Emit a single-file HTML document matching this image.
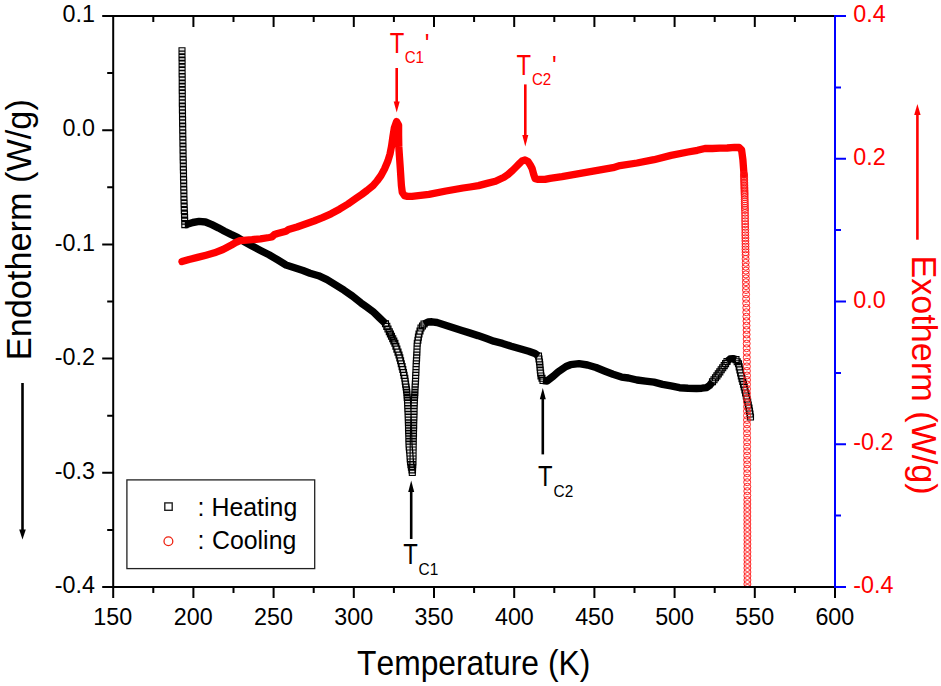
<!DOCTYPE html><html><head><meta charset="utf-8"><style>html,body{margin:0;padding:0;background:#fff;width:941px;height:686px;overflow:hidden}svg{display:block}</style></head><body>
<svg width="941" height="686" viewBox="0 0 941 686">
<rect width="941" height="686" fill="#fff"/>
<defs><clipPath id="pc"><rect x="113.2" y="15.0" width="721.8" height="572.0"/></clipPath></defs>
<g clip-path="url(#pc)">
<path d="M179.0 47.8h6.0v6.0h-6.0zM179.0 51.1h6.0v6.0h-6.0zM179.0 54.4h6.0v6.0h-6.0zM179.1 57.6h6.0v6.0h-6.0zM179.1 60.9h6.0v6.0h-6.0zM179.1 64.2h6.0v6.0h-6.0zM179.1 67.5h6.0v6.0h-6.0zM179.1 70.8h6.0v6.0h-6.0zM179.2 74.0h6.0v6.0h-6.0zM179.2 77.3h6.0v6.0h-6.0zM179.2 80.6h6.0v6.0h-6.0zM179.2 83.9h6.0v6.0h-6.0zM179.2 87.2h6.0v6.0h-6.0zM179.3 90.4h6.0v6.0h-6.0zM179.3 93.7h6.0v6.0h-6.0zM179.3 97.0h6.0v6.0h-6.0zM179.3 100.3h6.0v6.0h-6.0zM179.4 103.7h6.0v6.0h-6.0zM179.4 107.0h6.0v6.0h-6.0zM179.5 110.3h6.0v6.0h-6.0zM179.5 113.7h6.0v6.0h-6.0zM179.6 117.0h6.0v6.0h-6.0zM179.6 120.3h6.0v6.0h-6.0zM179.7 123.7h6.0v6.0h-6.0zM179.7 127.0h6.0v6.0h-6.0zM179.8 130.3h6.0v6.0h-6.0zM179.8 133.7h6.0v6.0h-6.0zM179.9 137.0h6.0v6.0h-6.0zM179.9 140.3h6.0v6.0h-6.0zM180.0 143.7h6.0v6.0h-6.0zM180.0 147.0h6.0v6.0h-6.0zM180.1 150.3h6.0v6.0h-6.0zM180.1 153.7h6.0v6.0h-6.0zM180.2 157.0h6.0v6.0h-6.0zM180.3 160.3h6.0v6.0h-6.0zM180.3 163.7h6.0v6.0h-6.0zM180.4 167.0h6.0v6.0h-6.0zM180.5 170.3h6.0v6.0h-6.0zM180.5 173.7h6.0v6.0h-6.0zM180.6 177.0h6.0v6.0h-6.0zM180.7 180.3h6.0v6.0h-6.0zM180.7 183.7h6.0v6.0h-6.0zM180.8 187.0h6.0v6.0h-6.0zM180.9 190.3h6.0v6.0h-6.0zM180.9 193.7h6.0v6.0h-6.0zM181.0 197.0h6.0v6.0h-6.0zM181.1 200.5h6.0v6.0h-6.0zM181.2 204.0h6.0v6.0h-6.0zM181.3 207.5h6.0v6.0h-6.0zM181.5 211.1h6.0v6.0h-6.0zM181.6 214.6h6.0v6.0h-6.0zM181.7 218.1h6.0v6.0h-6.0zM181.8 221.6h6.0v6.0h-6.0zM382.5 320.7h6.0v6.0h-6.0zM383.8 323.4h6.0v6.0h-6.0zM385.0 326.0h6.0v6.0h-6.0zM386.3 328.7h6.0v6.0h-6.0zM387.4 331.0h6.0v6.0h-6.0zM388.5 333.3h6.0v6.0h-6.0zM389.7 335.7h6.0v6.0h-6.0zM390.8 338.0h6.0v6.0h-6.0zM391.9 340.3h6.0v6.0h-6.0zM392.9 343.2h6.0v6.0h-6.0zM393.9 346.1h6.0v6.0h-6.0zM395.0 349.1h6.0v6.0h-6.0zM396.0 352.0h6.0v6.0h-6.0zM396.8 354.9h6.0v6.0h-6.0zM397.6 357.8h6.0v6.0h-6.0zM398.3 360.7h6.0v6.0h-6.0zM399.1 363.6h6.0v6.0h-6.0zM399.8 366.5h6.0v6.0h-6.0zM400.5 369.5h6.0v6.0h-6.0zM401.1 372.4h6.0v6.0h-6.0zM401.8 375.3h6.0v6.0h-6.0zM402.2 378.2h6.0v6.0h-6.0zM402.6 381.1h6.0v6.0h-6.0zM403.1 384.0h6.0v6.0h-6.0zM403.5 386.9h6.0v6.0h-6.0zM403.8 389.4h6.0v6.0h-6.0zM404.0 391.9h6.0v6.0h-6.0zM404.2 394.5h6.0v6.0h-6.0zM404.5 397.0h6.0v6.0h-6.0zM404.6 399.9h6.0v6.0h-6.0zM404.7 402.7h6.0v6.0h-6.0zM404.8 405.6h6.0v6.0h-6.0zM405.0 408.4h6.0v6.0h-6.0zM405.1 411.3h6.0v6.0h-6.0zM405.2 414.1h6.0v6.0h-6.0zM405.3 417.0h6.0v6.0h-6.0zM405.4 419.7h6.0v6.0h-6.0zM405.5 422.3h6.0v6.0h-6.0zM405.5 425.0h6.0v6.0h-6.0zM405.6 427.7h6.0v6.0h-6.0zM405.7 430.3h6.0v6.0h-6.0zM405.8 433.0h6.0v6.0h-6.0zM405.8 435.7h6.0v6.0h-6.0zM405.9 438.3h6.0v6.0h-6.0zM406.0 441.0h6.0v6.0h-6.0zM406.2 444.0h6.0v6.0h-6.0zM406.5 447.0h6.0v6.0h-6.0zM406.8 450.0h6.0v6.0h-6.0zM407.0 453.0h6.0v6.0h-6.0zM407.2 456.0h6.0v6.0h-6.0zM407.5 459.0h6.0v6.0h-6.0zM407.9 461.6h6.0v6.0h-6.0zM408.4 464.2h6.0v6.0h-6.0zM408.9 466.9h6.0v6.0h-6.0zM409.3 469.5h6.0v6.0h-6.0zM409.5 466.9h6.0v6.0h-6.0zM409.6 464.2h6.0v6.0h-6.0zM409.8 461.6h6.0v6.0h-6.0zM410.0 459.0h6.0v6.0h-6.0zM410.0 456.0h6.0v6.0h-6.0zM410.1 453.0h6.0v6.0h-6.0zM410.1 450.0h6.0v6.0h-6.0zM410.1 447.0h6.0v6.0h-6.0zM410.2 444.0h6.0v6.0h-6.0zM410.2 441.0h6.0v6.0h-6.0zM410.3 438.3h6.0v6.0h-6.0zM410.3 435.7h6.0v6.0h-6.0zM410.4 433.0h6.0v6.0h-6.0zM410.5 430.3h6.0v6.0h-6.0zM410.5 427.7h6.0v6.0h-6.0zM410.6 425.0h6.0v6.0h-6.0zM410.7 422.3h6.0v6.0h-6.0zM410.7 419.7h6.0v6.0h-6.0zM410.8 417.0h6.0v6.0h-6.0zM410.9 414.1h6.0v6.0h-6.0zM411.0 411.3h6.0v6.0h-6.0zM411.1 408.4h6.0v6.0h-6.0zM411.1 405.6h6.0v6.0h-6.0zM411.2 402.7h6.0v6.0h-6.0zM411.3 399.9h6.0v6.0h-6.0zM411.4 397.0h6.0v6.0h-6.0zM411.5 394.5h6.0v6.0h-6.0zM411.7 391.9h6.0v6.0h-6.0zM411.9 389.4h6.0v6.0h-6.0zM412.0 386.9h6.0v6.0h-6.0zM412.1 384.0h6.0v6.0h-6.0zM412.3 381.1h6.0v6.0h-6.0zM412.5 378.2h6.0v6.0h-6.0zM412.6 375.3h6.0v6.0h-6.0zM412.7 372.4h6.0v6.0h-6.0zM412.9 369.5h6.0v6.0h-6.0zM413.0 366.5h6.0v6.0h-6.0zM413.1 363.6h6.0v6.0h-6.0zM413.2 360.7h6.0v6.0h-6.0zM413.4 357.8h6.0v6.0h-6.0zM413.6 354.9h6.0v6.0h-6.0zM413.7 352.0h6.0v6.0h-6.0zM413.9 349.1h6.0v6.0h-6.0zM414.0 346.1h6.0v6.0h-6.0zM414.1 343.2h6.0v6.0h-6.0zM414.3 340.3h6.0v6.0h-6.0zM414.9 337.2h6.0v6.0h-6.0zM415.4 334.1h6.0v6.0h-6.0zM416.0 331.0h6.0v6.0h-6.0zM417.0 328.0h6.0v6.0h-6.0zM418.0 325.0h6.0v6.0h-6.0zM419.5 323.0h6.0v6.0h-6.0zM421.0 321.0h6.0v6.0h-6.0zM535.5 353.0h6.0v6.0h-6.0zM536.0 356.0h6.0v6.0h-6.0zM536.5 359.0h6.0v6.0h-6.0zM536.8 361.7h6.0v6.0h-6.0zM537.0 364.3h6.0v6.0h-6.0zM537.3 367.0h6.0v6.0h-6.0zM537.6 370.0h6.0v6.0h-6.0zM538.0 373.0h6.0v6.0h-6.0zM539.0 375.2h6.0v6.0h-6.0zM540.0 377.5h6.0v6.0h-6.0zM709.5 378.8h6.0v6.0h-6.0zM711.0 376.8h6.0v6.0h-6.0zM712.5 374.8h6.0v6.0h-6.0zM713.9 372.9h6.0v6.0h-6.0zM715.3 370.9h6.0v6.0h-6.0zM716.8 368.9h6.0v6.0h-6.0zM718.2 366.8h6.0v6.0h-6.0zM719.7 364.7h6.0v6.0h-6.0zM721.2 362.6h6.0v6.0h-6.0zM722.6 360.6h6.0v6.0h-6.0zM724.0 358.5h6.0v6.0h-6.0zM733.0 356.6h6.0v6.0h-6.0zM734.2 358.7h6.0v6.0h-6.0zM735.5 360.8h6.0v6.0h-6.0zM736.2 363.9h6.0v6.0h-6.0zM736.9 366.9h6.0v6.0h-6.0zM737.6 369.9h6.0v6.0h-6.0zM738.3 373.0h6.0v6.0h-6.0zM739.0 375.8h6.0v6.0h-6.0zM739.8 378.5h6.0v6.0h-6.0zM740.5 381.2h6.0v6.0h-6.0zM741.2 384.0h6.0v6.0h-6.0zM741.9 387.0h6.0v6.0h-6.0zM742.6 390.0h6.0v6.0h-6.0zM743.3 393.0h6.0v6.0h-6.0zM744.0 396.0h6.0v6.0h-6.0zM744.7 399.0h6.0v6.0h-6.0zM745.3 402.0h6.0v6.0h-6.0zM746.0 405.0h6.0v6.0h-6.0zM746.5 408.0h6.0v6.0h-6.0zM747.0 411.0h6.0v6.0h-6.0zM747.5 414.0h6.0v6.0h-6.0z" fill="#e6e6e6" stroke="#000" stroke-width="1.1"/>
<path d="M184.8 224.6 186.4 224.6 192.8 222.5 199.1 221.4 205.5 222.0 211.9 224.7 218.3 227.8 224.6 231.2 231.0 234.4 237.4 237.4 243.5 241.2 252.0 246.0 260.5 250.5 269.0 254.8 277.5 259.8 286.0 265.0 294.5 267.7 303.0 270.5 310.0 273.2 318.5 275.7 327.0 279.6 335.5 284.8 344.0 290.2 352.5 296.1 361.0 302.9 366.4 306.8 372.8 311.4 379.1 317.5 385.5 323.7 M424.0 324.0 428.0 322.0 432.0 321.8 437.0 322.5 444.0 324.7 452.5 327.5 461.0 330.3 469.5 332.9 478.0 335.6 486.5 338.6 493.7 341.2 502.5 343.4 511.2 346.2 520.0 348.8 528.7 351.2 535.0 353.5 538.5 356.0 M543.0 380.5 547.0 381.0 553.5 376.0 558.0 372.0 562.0 369.2 566.0 366.5 570.5 364.7 579.0 363.7 587.5 365.0 596.0 367.5 604.5 371.0 613.0 374.3 621.5 377.1 628.5 378.0 637.0 380.0 645.5 381.1 654.0 382.1 662.5 384.3 671.0 385.9 679.5 387.7 688.0 388.3 696.5 388.5 701.9 388.2 706.7 387.6 709.5 385.6 712.5 381.8 M727.0 361.5 730.0 359.0 733.0 358.6 736.0 359.6" fill="none" stroke="#000" stroke-width="7.4" stroke-linejoin="round" stroke-linecap="butt"/>
<path d="M182.0 261.6 189.0 259.5 197.5 257.4 206.0 255.2 214.5 252.8 223.0 249.5 231.5 245.0 236.0 242.4 240.0 240.6 243.5 240.3 252.0 239.7 260.5 238.8 269.0 237.5 271.8 237.0 274.5 234.5 277.5 233.5 286.0 231.2 288.5 229.5 297.0 227.0 305.5 224.0 314.0 221.0 322.5 217.6 331.0 213.8 339.5 209.2 348.0 204.0 356.5 198.1 361.7 194.5 367.0 190.5 373.0 185.7 377.0 181.0 381.0 175.5 384.5 169.0 387.9 161.0 390.0 154.0 391.5 146.4 393.0 136.0 394.3 128.0 396.6 121.6 398.6 125.0 398.6 135.0 398.8 146.4 399.5 157.0 400.3 168.5 401.4 185.5 402.3 192.5 404.5 195.6 407.5 196.4 412.0 196.4 429.0 194.4 446.0 191.0 463.0 188.0 470.0 187.0 478.5 185.6 487.0 183.4 495.5 181.3 504.0 177.3 508.0 174.5 512.5 170.5 516.0 167.0 519.3 163.7 522.0 161.0 525.0 160.0 528.0 161.5 530.3 165.0 532.1 168.5 533.8 174.8 535.2 178.8 538.0 179.4 545.0 179.4 550.0 178.4 562.0 176.6 579.0 173.6 596.0 170.7 613.0 167.7 620.0 165.6 637.0 163.0 654.0 159.7 671.0 155.4 688.0 152.0 697.4 150.3 704.9 148.5 712.3 148.5 719.8 148.2 727.2 148.0 734.6 147.3 739.0 147.5 741.6 150.0 742.9 159.8 744.0 174.6" fill="none" stroke="#f00" stroke-width="7.3" stroke-linejoin="round" stroke-linecap="round"/>
<path d="M740.5 174.6a3.5 3.5 0 1 0 7.0 0a3.5 3.5 0 1 0 -7.0 0zM740.5 176.2a3.5 3.5 0 1 0 7.0 0a3.5 3.5 0 1 0 -7.0 0zM740.6 177.7a3.5 3.5 0 1 0 7.0 0a3.5 3.5 0 1 0 -7.0 0zM740.6 179.3a3.5 3.5 0 1 0 7.0 0a3.5 3.5 0 1 0 -7.0 0zM740.7 180.9a3.5 3.5 0 1 0 7.0 0a3.5 3.5 0 1 0 -7.0 0zM740.7 182.4a3.5 3.5 0 1 0 7.0 0a3.5 3.5 0 1 0 -7.0 0zM740.8 184.0a3.5 3.5 0 1 0 7.0 0a3.5 3.5 0 1 0 -7.0 0zM740.8 185.6a3.5 3.5 0 1 0 7.0 0a3.5 3.5 0 1 0 -7.0 0zM740.9 187.2a3.5 3.5 0 1 0 7.0 0a3.5 3.5 0 1 0 -7.0 0zM740.9 188.7a3.5 3.5 0 1 0 7.0 0a3.5 3.5 0 1 0 -7.0 0zM741.0 190.3a3.5 3.5 0 1 0 7.0 0a3.5 3.5 0 1 0 -7.0 0zM741.0 191.9a3.5 3.5 0 1 0 7.0 0a3.5 3.5 0 1 0 -7.0 0zM741.1 193.4a3.5 3.5 0 1 0 7.0 0a3.5 3.5 0 1 0 -7.0 0zM741.1 195.0a3.5 3.5 0 1 0 7.0 0a3.5 3.5 0 1 0 -7.0 0zM741.2 197.1a3.5 3.5 0 1 0 7.0 0a3.5 3.5 0 1 0 -7.0 0zM741.2 199.3a3.5 3.5 0 1 0 7.0 0a3.5 3.5 0 1 0 -7.0 0zM741.3 201.4a3.5 3.5 0 1 0 7.0 0a3.5 3.5 0 1 0 -7.0 0zM741.3 203.6a3.5 3.5 0 1 0 7.0 0a3.5 3.5 0 1 0 -7.0 0zM741.4 205.7a3.5 3.5 0 1 0 7.0 0a3.5 3.5 0 1 0 -7.0 0zM741.4 207.9a3.5 3.5 0 1 0 7.0 0a3.5 3.5 0 1 0 -7.0 0zM741.5 210.0a3.5 3.5 0 1 0 7.0 0a3.5 3.5 0 1 0 -7.0 0zM741.5 212.8a3.5 3.5 0 1 0 7.0 0a3.5 3.5 0 1 0 -7.0 0zM741.6 215.6a3.5 3.5 0 1 0 7.0 0a3.5 3.5 0 1 0 -7.0 0zM741.6 218.4a3.5 3.5 0 1 0 7.0 0a3.5 3.5 0 1 0 -7.0 0zM741.6 221.2a3.5 3.5 0 1 0 7.0 0a3.5 3.5 0 1 0 -7.0 0zM741.7 224.1a3.5 3.5 0 1 0 7.0 0a3.5 3.5 0 1 0 -7.0 0zM741.7 226.9a3.5 3.5 0 1 0 7.0 0a3.5 3.5 0 1 0 -7.0 0zM741.8 229.7a3.5 3.5 0 1 0 7.0 0a3.5 3.5 0 1 0 -7.0 0zM741.8 232.5a3.5 3.5 0 1 0 7.0 0a3.5 3.5 0 1 0 -7.0 0zM741.8 235.3a3.5 3.5 0 1 0 7.0 0a3.5 3.5 0 1 0 -7.0 0zM741.9 238.1a3.5 3.5 0 1 0 7.0 0a3.5 3.5 0 1 0 -7.0 0zM741.9 240.9a3.5 3.5 0 1 0 7.0 0a3.5 3.5 0 1 0 -7.0 0zM742.0 243.8a3.5 3.5 0 1 0 7.0 0a3.5 3.5 0 1 0 -7.0 0zM742.0 246.6a3.5 3.5 0 1 0 7.0 0a3.5 3.5 0 1 0 -7.0 0zM742.0 249.4a3.5 3.5 0 1 0 7.0 0a3.5 3.5 0 1 0 -7.0 0zM742.1 252.2a3.5 3.5 0 1 0 7.0 0a3.5 3.5 0 1 0 -7.0 0zM742.1 255.0a3.5 3.5 0 1 0 7.0 0a3.5 3.5 0 1 0 -7.0 0zM742.1 258.9a3.5 3.5 0 1 0 7.0 0a3.5 3.5 0 1 0 -7.0 0zM742.2 262.8a3.5 3.5 0 1 0 7.0 0a3.5 3.5 0 1 0 -7.0 0zM742.2 266.7a3.5 3.5 0 1 0 7.0 0a3.5 3.5 0 1 0 -7.0 0zM742.3 270.6a3.5 3.5 0 1 0 7.0 0a3.5 3.5 0 1 0 -7.0 0zM742.3 274.4a3.5 3.5 0 1 0 7.0 0a3.5 3.5 0 1 0 -7.0 0zM742.4 278.3a3.5 3.5 0 1 0 7.0 0a3.5 3.5 0 1 0 -7.0 0zM742.4 282.2a3.5 3.5 0 1 0 7.0 0a3.5 3.5 0 1 0 -7.0 0zM742.5 286.1a3.5 3.5 0 1 0 7.0 0a3.5 3.5 0 1 0 -7.0 0zM742.5 290.0a3.5 3.5 0 1 0 7.0 0a3.5 3.5 0 1 0 -7.0 0zM742.6 294.4a3.5 3.5 0 1 0 7.0 0a3.5 3.5 0 1 0 -7.0 0zM742.6 298.9a3.5 3.5 0 1 0 7.0 0a3.5 3.5 0 1 0 -7.0 0zM742.7 303.3a3.5 3.5 0 1 0 7.0 0a3.5 3.5 0 1 0 -7.0 0zM742.8 307.8a3.5 3.5 0 1 0 7.0 0a3.5 3.5 0 1 0 -7.0 0zM742.8 312.2a3.5 3.5 0 1 0 7.0 0a3.5 3.5 0 1 0 -7.0 0zM742.9 316.7a3.5 3.5 0 1 0 7.0 0a3.5 3.5 0 1 0 -7.0 0zM743.0 321.1a3.5 3.5 0 1 0 7.0 0a3.5 3.5 0 1 0 -7.0 0zM743.0 325.6a3.5 3.5 0 1 0 7.0 0a3.5 3.5 0 1 0 -7.0 0zM743.1 330.0a3.5 3.5 0 1 0 7.0 0a3.5 3.5 0 1 0 -7.0 0zM743.1 334.5a3.5 3.5 0 1 0 7.0 0a3.5 3.5 0 1 0 -7.0 0zM743.2 339.1a3.5 3.5 0 1 0 7.0 0a3.5 3.5 0 1 0 -7.0 0zM743.2 343.6a3.5 3.5 0 1 0 7.0 0a3.5 3.5 0 1 0 -7.0 0zM743.2 348.2a3.5 3.5 0 1 0 7.0 0a3.5 3.5 0 1 0 -7.0 0zM743.3 352.7a3.5 3.5 0 1 0 7.0 0a3.5 3.5 0 1 0 -7.0 0zM743.3 357.3a3.5 3.5 0 1 0 7.0 0a3.5 3.5 0 1 0 -7.0 0zM743.4 361.8a3.5 3.5 0 1 0 7.0 0a3.5 3.5 0 1 0 -7.0 0zM743.4 366.4a3.5 3.5 0 1 0 7.0 0a3.5 3.5 0 1 0 -7.0 0zM743.4 370.9a3.5 3.5 0 1 0 7.0 0a3.5 3.5 0 1 0 -7.0 0zM743.5 375.5a3.5 3.5 0 1 0 7.0 0a3.5 3.5 0 1 0 -7.0 0zM743.5 380.0a3.5 3.5 0 1 0 7.0 0a3.5 3.5 0 1 0 -7.0 0zM743.5 384.4a3.5 3.5 0 1 0 7.0 0a3.5 3.5 0 1 0 -7.0 0zM743.5 388.9a3.5 3.5 0 1 0 7.0 0a3.5 3.5 0 1 0 -7.0 0zM743.5 393.3a3.5 3.5 0 1 0 7.0 0a3.5 3.5 0 1 0 -7.0 0zM743.5 397.8a3.5 3.5 0 1 0 7.0 0a3.5 3.5 0 1 0 -7.0 0zM743.5 402.2a3.5 3.5 0 1 0 7.0 0a3.5 3.5 0 1 0 -7.0 0zM743.5 406.7a3.5 3.5 0 1 0 7.0 0a3.5 3.5 0 1 0 -7.0 0zM743.5 411.1a3.5 3.5 0 1 0 7.0 0a3.5 3.5 0 1 0 -7.0 0zM743.5 415.6a3.5 3.5 0 1 0 7.0 0a3.5 3.5 0 1 0 -7.0 0zM743.5 420.0a3.5 3.5 0 1 0 7.0 0a3.5 3.5 0 1 0 -7.0 0zM743.5 424.4a3.5 3.5 0 1 0 7.0 0a3.5 3.5 0 1 0 -7.0 0zM743.5 428.9a3.5 3.5 0 1 0 7.0 0a3.5 3.5 0 1 0 -7.0 0zM743.5 433.3a3.5 3.5 0 1 0 7.0 0a3.5 3.5 0 1 0 -7.0 0zM743.6 437.8a3.5 3.5 0 1 0 7.0 0a3.5 3.5 0 1 0 -7.0 0zM743.6 442.2a3.5 3.5 0 1 0 7.0 0a3.5 3.5 0 1 0 -7.0 0zM743.6 446.7a3.5 3.5 0 1 0 7.0 0a3.5 3.5 0 1 0 -7.0 0zM743.6 451.1a3.5 3.5 0 1 0 7.0 0a3.5 3.5 0 1 0 -7.0 0zM743.6 455.6a3.5 3.5 0 1 0 7.0 0a3.5 3.5 0 1 0 -7.0 0zM743.6 460.0a3.5 3.5 0 1 0 7.0 0a3.5 3.5 0 1 0 -7.0 0zM743.7 464.4a3.5 3.5 0 1 0 7.0 0a3.5 3.5 0 1 0 -7.0 0zM743.7 468.9a3.5 3.5 0 1 0 7.0 0a3.5 3.5 0 1 0 -7.0 0zM743.7 473.3a3.5 3.5 0 1 0 7.0 0a3.5 3.5 0 1 0 -7.0 0zM743.7 477.8a3.5 3.5 0 1 0 7.0 0a3.5 3.5 0 1 0 -7.0 0zM743.7 482.2a3.5 3.5 0 1 0 7.0 0a3.5 3.5 0 1 0 -7.0 0zM743.8 486.7a3.5 3.5 0 1 0 7.0 0a3.5 3.5 0 1 0 -7.0 0zM743.8 491.1a3.5 3.5 0 1 0 7.0 0a3.5 3.5 0 1 0 -7.0 0zM743.8 495.6a3.5 3.5 0 1 0 7.0 0a3.5 3.5 0 1 0 -7.0 0zM743.8 500.0a3.5 3.5 0 1 0 7.0 0a3.5 3.5 0 1 0 -7.0 0zM743.8 504.0a3.5 3.5 0 1 0 7.0 0a3.5 3.5 0 1 0 -7.0 0zM743.8 508.0a3.5 3.5 0 1 0 7.0 0a3.5 3.5 0 1 0 -7.0 0zM743.8 512.0a3.5 3.5 0 1 0 7.0 0a3.5 3.5 0 1 0 -7.0 0zM743.8 516.0a3.5 3.5 0 1 0 7.0 0a3.5 3.5 0 1 0 -7.0 0zM743.8 520.0a3.5 3.5 0 1 0 7.0 0a3.5 3.5 0 1 0 -7.0 0zM743.8 524.0a3.5 3.5 0 1 0 7.0 0a3.5 3.5 0 1 0 -7.0 0zM743.8 528.0a3.5 3.5 0 1 0 7.0 0a3.5 3.5 0 1 0 -7.0 0zM743.9 532.0a3.5 3.5 0 1 0 7.0 0a3.5 3.5 0 1 0 -7.0 0zM743.9 536.0a3.5 3.5 0 1 0 7.0 0a3.5 3.5 0 1 0 -7.0 0zM743.9 540.0a3.5 3.5 0 1 0 7.0 0a3.5 3.5 0 1 0 -7.0 0zM743.9 544.0a3.5 3.5 0 1 0 7.0 0a3.5 3.5 0 1 0 -7.0 0zM743.9 548.0a3.5 3.5 0 1 0 7.0 0a3.5 3.5 0 1 0 -7.0 0zM743.9 552.0a3.5 3.5 0 1 0 7.0 0a3.5 3.5 0 1 0 -7.0 0zM743.9 556.0a3.5 3.5 0 1 0 7.0 0a3.5 3.5 0 1 0 -7.0 0zM743.9 560.0a3.5 3.5 0 1 0 7.0 0a3.5 3.5 0 1 0 -7.0 0zM743.9 564.0a3.5 3.5 0 1 0 7.0 0a3.5 3.5 0 1 0 -7.0 0zM743.9 568.0a3.5 3.5 0 1 0 7.0 0a3.5 3.5 0 1 0 -7.0 0zM743.9 572.0a3.5 3.5 0 1 0 7.0 0a3.5 3.5 0 1 0 -7.0 0zM743.9 576.0a3.5 3.5 0 1 0 7.0 0a3.5 3.5 0 1 0 -7.0 0zM743.9 580.0a3.5 3.5 0 1 0 7.0 0a3.5 3.5 0 1 0 -7.0 0zM743.9 584.0a3.5 3.5 0 1 0 7.0 0a3.5 3.5 0 1 0 -7.0 0zM743.9 588.0a3.5 3.5 0 1 0 7.0 0a3.5 3.5 0 1 0 -7.0 0zM743.9 592.0a3.5 3.5 0 1 0 7.0 0a3.5 3.5 0 1 0 -7.0 0zM743.9 596.0a3.5 3.5 0 1 0 7.0 0a3.5 3.5 0 1 0 -7.0 0zM743.9 600.0a3.5 3.5 0 1 0 7.0 0a3.5 3.5 0 1 0 -7.0 0z" fill="none" stroke="#f11" stroke-width="0.9"/>
</g>
<path d="M113.2 587.0V598.0M153.3 587.0V593.0M153.3 16.0V22.0M193.4 587.0V598.0M193.4 16.0V27.0M233.5 587.0V593.0M233.5 16.0V22.0M273.6 587.0V598.0M273.6 16.0V27.0M313.7 587.0V593.0M313.7 16.0V22.0M353.8 587.0V598.0M353.8 16.0V27.0M393.9 587.0V593.0M393.9 16.0V22.0M434.0 587.0V598.0M434.0 16.0V27.0M474.1 587.0V593.0M474.1 16.0V22.0M514.2 587.0V598.0M514.2 16.0V27.0M554.3 587.0V593.0M554.3 16.0V22.0M594.4 587.0V598.0M594.4 16.0V27.0M634.5 587.0V593.0M634.5 16.0V22.0M674.6 587.0V598.0M674.6 16.0V27.0M714.7 587.0V593.0M714.7 16.0V22.0M754.8 587.0V598.0M754.8 16.0V27.0M794.9 587.0V593.0M794.9 16.0V22.0M835.0 587.0V598.0M113.2 16.0H102.2M113.2 73.1H107.2M113.2 130.2H102.2M113.2 187.3H107.2M113.2 244.4H102.2M113.2 301.5H107.2M113.2 358.6H102.2M113.2 415.7H107.2M113.2 472.8H102.2M113.2 529.9H107.2M113.2 587.0H102.2" stroke="#000" stroke-width="2" fill="none"/>
<path d="M112.2 16.0H835.0M112.2 587.0H835.0M113.2 15.0V588.0" stroke="#000" stroke-width="2" fill="none"/>
<path d="M835.0 16.0H846.0M835.0 87.4H841.0M835.0 158.8H846.0M835.0 230.1H841.0M835.0 301.5H846.0M835.0 372.9H841.0M835.0 444.2H846.0M835.0 515.6H841.0M835.0 587.0H846.0 M835.0 15.0V588.0" stroke="#00f" stroke-width="2" fill="none"/>
<text transform="translate(93.32 625.40) scale(0.940 1)" font-family="Liberation Sans, sans-serif" style="font-kerning:none" font-size="24.80" fill="#000">150</text>
<text transform="translate(173.82 625.40) scale(0.940 1)" font-family="Liberation Sans, sans-serif" style="font-kerning:none" font-size="24.80" fill="#000">200</text>
<text transform="translate(254.02 625.40) scale(0.940 1)" font-family="Liberation Sans, sans-serif" style="font-kerning:none" font-size="24.80" fill="#000">250</text>
<text transform="translate(334.36 625.40) scale(0.940 1)" font-family="Liberation Sans, sans-serif" style="font-kerning:none" font-size="24.80" fill="#000">300</text>
<text transform="translate(414.56 625.40) scale(0.940 1)" font-family="Liberation Sans, sans-serif" style="font-kerning:none" font-size="24.80" fill="#000">350</text>
<text transform="translate(494.94 625.40) scale(0.940 1)" font-family="Liberation Sans, sans-serif" style="font-kerning:none" font-size="24.80" fill="#000">400</text>
<text transform="translate(575.14 625.40) scale(0.940 1)" font-family="Liberation Sans, sans-serif" style="font-kerning:none" font-size="24.80" fill="#000">450</text>
<text transform="translate(655.14 625.40) scale(0.940 1)" font-family="Liberation Sans, sans-serif" style="font-kerning:none" font-size="24.80" fill="#000">500</text>
<text transform="translate(735.34 625.40) scale(0.940 1)" font-family="Liberation Sans, sans-serif" style="font-kerning:none" font-size="24.80" fill="#000">550</text>
<text transform="translate(815.42 625.40) scale(0.940 1)" font-family="Liberation Sans, sans-serif" style="font-kerning:none" font-size="24.80" fill="#000">600</text>
<text transform="translate(95.0 22.20) scale(0.940 1)" font-family="Liberation Sans, sans-serif" style="font-kerning:none" font-size="24.80" text-anchor="end" fill="#000">0.1</text>
<text transform="translate(95.0 136.40) scale(0.940 1)" font-family="Liberation Sans, sans-serif" style="font-kerning:none" font-size="24.80" text-anchor="end" fill="#000">0.0</text>
<text transform="translate(95.0 250.60) scale(0.940 1)" font-family="Liberation Sans, sans-serif" style="font-kerning:none" font-size="24.80" text-anchor="end" fill="#000">-0.1</text>
<text transform="translate(95.0 364.80) scale(0.940 1)" font-family="Liberation Sans, sans-serif" style="font-kerning:none" font-size="24.80" text-anchor="end" fill="#000">-0.2</text>
<text transform="translate(95.0 479.00) scale(0.940 1)" font-family="Liberation Sans, sans-serif" style="font-kerning:none" font-size="24.80" text-anchor="end" fill="#000">-0.3</text>
<text transform="translate(95.0 593.20) scale(0.940 1)" font-family="Liberation Sans, sans-serif" style="font-kerning:none" font-size="24.80" text-anchor="end" fill="#000">-0.4</text>
<text transform="translate(853.3 22.20) scale(0.940 1)" font-family="Liberation Sans, sans-serif" style="font-kerning:none" font-size="24.80" fill="#f00">0.4</text>
<text transform="translate(853.3 164.95) scale(0.940 1)" font-family="Liberation Sans, sans-serif" style="font-kerning:none" font-size="24.80" fill="#f00">0.2</text>
<text transform="translate(853.3 307.70) scale(0.940 1)" font-family="Liberation Sans, sans-serif" style="font-kerning:none" font-size="24.80" fill="#f00">0.0</text>
<text transform="translate(853.3 450.45) scale(0.940 1)" font-family="Liberation Sans, sans-serif" style="font-kerning:none" font-size="24.80" fill="#f00">-0.2</text>
<text transform="translate(853.3 593.20) scale(0.940 1)" font-family="Liberation Sans, sans-serif" style="font-kerning:none" font-size="24.80" fill="#f00">-0.4</text>
<text transform="translate(357.09 674.7) scale(0.9086 1)" font-family="Liberation Sans, sans-serif" style="font-kerning:none" font-size="35.00" fill="#000">Temperature (K)</text>
<text transform="translate(31.2,360.21) rotate(-90) scale(0.9800 1)" font-family="Liberation Sans, sans-serif" style="font-kerning:none" font-size="35.00" fill="#000">Endotherm (W/g)</text>
<text transform="translate(912.0,255.50) rotate(90) scale(0.9767 1)" font-family="Liberation Sans, sans-serif" style="font-kerning:none" font-size="35.00" fill="#f00">Exotherm (W/g)</text>
<path d="M22.5 383V531" stroke="#000" stroke-width="2.6"/><path d="M19.2 529.5L25.8 529.5L22.5 539.5Z" fill="#000"/>
<path d="M917.4 239.7V113" stroke="#f00" stroke-width="2.6"/><path d="M914.2 115L920.6 115L917.4 104Z" fill="#f00"/>
<rect x="126.9" y="479.9" width="187.8" height="88.7" fill="none" stroke="#222" stroke-width="1.3"/>
<rect x="164.8" y="502.9" width="7.4" height="7.4" fill="none" stroke="#222" stroke-width="1.4"/>
<circle cx="168.4" cy="541.2" r="4.4" fill="none" stroke="#e21" stroke-width="1.3"/>
<text transform="translate(197.53 515.80) scale(0.950 1)" font-family="Liberation Sans, sans-serif" style="font-kerning:none" font-size="26.20" fill="#000">:</text>
<text transform="translate(211.46 515.80) scale(0.950 1)" font-family="Liberation Sans, sans-serif" style="font-kerning:none" font-size="26.20" fill="#000">Heating</text>
<text transform="translate(197.53 549.00) scale(0.950 1)" font-family="Liberation Sans, sans-serif" style="font-kerning:none" font-size="26.20" fill="#000">:</text>
<text transform="translate(211.94 549.00) scale(0.950 1)" font-family="Liberation Sans, sans-serif" style="font-kerning:none" font-size="26.20" fill="#000">Cooling</text>
<path d="M411.2 539V490" stroke="#000" stroke-width="2.6"/><path d="M408.2 492L414.2 492L411.2 480.5Z" fill="#000"/>
<path d="M542.8 454.4V397" stroke="#000" stroke-width="2.6"/><path d="M539.8 399.3L545.8 399.3L542.8 388Z" fill="#000"/>
<text transform="translate(403.16 564.10) scale(0.805 1)" font-family="Liberation Sans, sans-serif" style="font-kerning:none" font-size="29.60" fill="#000">T</text>
<text transform="translate(418.62 575.40) scale(0.890 1)" font-family="Liberation Sans, sans-serif" style="font-kerning:none" font-size="17.30" fill="#000">C1</text>
<text transform="translate(538.06 485.50) scale(0.805 1)" font-family="Liberation Sans, sans-serif" style="font-kerning:none" font-size="29.60" fill="#000">T</text>
<text transform="translate(553.52 496.80) scale(0.890 1)" font-family="Liberation Sans, sans-serif" style="font-kerning:none" font-size="17.30" fill="#000">C2</text>
<path d="M396.7 68V104" stroke="#f00" stroke-width="2.6"/><path d="M393.7 101.6L399.7 101.6L396.7 112.5Z" fill="#f00"/>
<path d="M525.3 84.4V137" stroke="#f00" stroke-width="2.6"/><path d="M522.3 135L528.3 135L525.3 146.4Z" fill="#f00"/>
<text transform="translate(389.66 52.90) scale(0.805 1)" font-family="Liberation Sans, sans-serif" style="font-kerning:none" font-size="29.60" fill="#f00">T</text>
<text transform="translate(404.63 63.20) scale(0.890 1)" font-family="Liberation Sans, sans-serif" style="font-kerning:none" font-size="17.00" fill="#f00">C1</text>
<text transform="translate(424.65 52.90) scale(0.900 1)" font-family="Liberation Sans, sans-serif" style="font-kerning:none" font-size="27.30" fill="#f00">'</text>
<text transform="translate(516.46 74.60) scale(0.805 1)" font-family="Liberation Sans, sans-serif" style="font-kerning:none" font-size="29.60" fill="#f00">T</text>
<text transform="translate(531.93 84.90) scale(0.890 1)" font-family="Liberation Sans, sans-serif" style="font-kerning:none" font-size="17.00" fill="#f00">C2</text>
<text transform="translate(551.95 74.60) scale(0.900 1)" font-family="Liberation Sans, sans-serif" style="font-kerning:none" font-size="27.30" fill="#f00">'</text>
</svg></body></html>
